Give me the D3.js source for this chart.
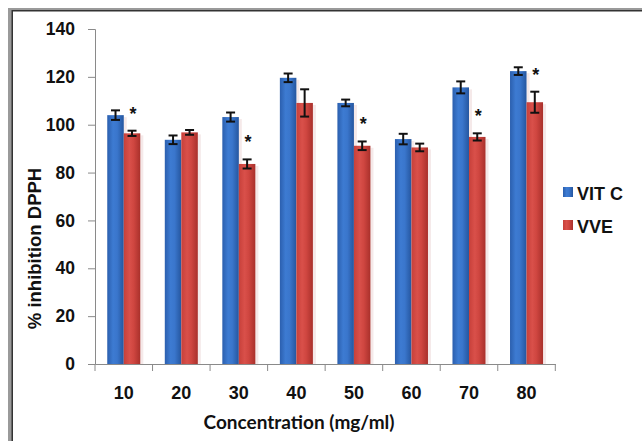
<!DOCTYPE html>
<html><head><meta charset="utf-8">
<script src="https://cdn.jsdelivr.net/npm/d3@7/dist/d3.min.js"></script>
<style>html,body{margin:0;padding:0;background:#fff;}svg{display:block;}</style>
</head><body>
<script>
const categories = ["10","20","30","40","50","60","70","80"];
const seriesNames = ["VIT C","VVE"];
const vitC = [104, 93.7, 103.2, 119.6, 109.1, 94, 115.6, 122.4];
const vitCErr = [2, 1.8, 1.9, 1.8, 1.4, 2.2, 2.5, 1.6];
const vve = [96.4, 96.8, 83.6, 109.1, 91.2, 90.5, 94.9, 109.4];
const vveErr = [1.1, 1.0, 1.9, 5.7, 1.8, 1.6, 1.5, 4.4];
const significant = [true, false, true, false, true, false, true, true];
const yTicks = [0,20,40,60,80,100,120,140];

const W = 642, H = 441;
const svg = d3.select("body").append("svg").attr("width", W).attr("height", H);
const defs = svg.append("defs");
function grad(id, stops){
  const g = defs.append("linearGradient").attr("id", id).attr("x1","0").attr("x2","1").attr("y1","0").attr("y2","0");
  stops.forEach(s => g.append("stop").attr("offset", s[0]).attr("stop-color", s[1]));
}
grad("gBlue", [[0,"#2b5fae"],[0.35,"#3d7bd2"],[0.6,"#3a76cc"],[1,"#25569f"]]);
grad("gRed", [[0,"#c7403a"],[0.35,"#d9504a"],[0.6,"#cf4640"],[1,"#a9302b"]]);

// frame
svg.append("rect").attr("x",0).attr("y",0).attr("width",W).attr("height",H).attr("fill","#fff");
svg.append("rect").attr("x",8).attr("y",8).attr("width",W-8).attr("height",3).attr("fill","#9a9a9a");
svg.append("rect").attr("x",8).attr("y",10).attr("width",W-8).attr("height",1.5).attr("fill","#333");
svg.append("rect").attr("x",8).attr("y",8).attr("width",4).attr("height",H-8).attr("fill","#9a9a9a");
svg.append("rect").attr("x",11.5).attr("y",10).attr("width",1.5).attr("height",H-10).attr("fill","#333");

const x0 = 95, x1 = 555.3, yTop = 29, yBot = 364;
const x = d3.scaleBand().domain(categories).range([x0, x1]).paddingInner(0.426).paddingOuter(0.213);
const xs = d3.scaleBand().domain(seriesNames).range([0, x.bandwidth()]);
const y = d3.scaleLinear().domain([0, 140]).range([yBot, yTop]);
const xTickScale = d3.scaleBand().domain(categories).range([x0, x1]);

// y axis
const yAxis = svg.append("g").attr("transform", `translate(${x0},0)`)
  .call(d3.axisLeft(y).tickValues(yTicks).tickSize(7).tickPadding(13).tickFormat(d3.format("d")));
yAxis.select(".domain").attr("stroke","#8a8a8a");
yAxis.selectAll(".tick line").attr("stroke","#8a8a8a");
yAxis.selectAll("text").attr("font-family","Liberation Sans, Arial, sans-serif").attr("font-weight","bold")
  .attr("font-size",17.5).attr("fill","#111");

// x axis
const xAxisG = svg.append("g").attr("transform", `translate(0,${yBot})`)
  .call(d3.axisBottom(x).tickSize(0).tickPadding(22));
xAxisG.select(".domain").attr("stroke","#8a8a8a");
xAxisG.selectAll("text").attr("font-family","Liberation Sans, Arial, sans-serif").attr("font-weight","bold")
  .attr("font-size",18).attr("fill","#111");
// boundary ticks
const bounds = categories.map(c => xTickScale(c)).concat([x1]);
svg.append("g").selectAll("line").data(bounds).join("line")
  .attr("x1", d=>d).attr("x2", d=>d).attr("y1", yBot).attr("y2", yBot+7)
  .attr("stroke","#8a8a8a");

// bars
const data = categories.map((c,i)=>({c, vals:[
  {s:"VIT C", v:vitC[i], e:vitCErr[i], fill:"url(#gBlue)"},
  {s:"VVE", v:vve[i], e:vveErr[i], fill:"url(#gRed)"}], sig:significant[i], i}));
const groups = svg.append("g").selectAll("g").data(data).join("g")
  .attr("transform", d=>`translate(${x(d.c)},0)`);
// shadows
groups.selectAll("rect.sh").data(d=>d.vals).join("rect").attr("class","sh")
  .attr("x", d=>xs(d.s)+xs.bandwidth()).attr("y", d=>y(d.v)+2).attr("width",3)
  .attr("height", d=>yBot-y(d.v)-2).attr("fill","#f3e3e3").attr("opacity",0.8);
groups.selectAll("rect.bar").data(d=>d.vals).join("rect").attr("class","bar")
  .attr("x", d=>xs(d.s)).attr("y", d=>y(d.v)).attr("width", xs.bandwidth())
  .attr("height", d=>yBot-y(d.v)).attr("fill", d=>d.fill);
// error bars
const eb = groups.selectAll("g.eb").data(d=>d.vals).join("g").attr("class","eb")
  .attr("transform", d=>`translate(${xs(d.s)+xs.bandwidth()/2},0)`);
eb.append("line").attr("x1",0).attr("x2",0).attr("y1",d=>y(d.v+d.e)).attr("y2",d=>y(d.v-d.e))
  .attr("stroke","#111").attr("stroke-width",2);
eb.append("line").attr("x1",-4.5).attr("x2",4.5).attr("y1",d=>y(d.v+d.e)).attr("y2",d=>y(d.v+d.e))
  .attr("stroke","#111").attr("stroke-width",2);
eb.append("line").attr("x1",-4.5).attr("x2",4.5).attr("y1",d=>y(d.v-d.e)).attr("y2",d=>y(d.v-d.e))
  .attr("stroke","#111").attr("stroke-width",2);
// asterisks
groups.filter(d=>d.sig).append("text")
  .attr("x", xs("VVE")+xs.bandwidth()/2+1)
  .attr("y", d=>y(d.vals[1].v+d.vals[1].e)-11)
  .attr("text-anchor","middle").attr("font-family","Liberation Sans, Arial, sans-serif")
  .attr("font-weight","bold").attr("font-size",18).attr("fill","#111").text("*");

// axis titles
svg.append("text").attr("x",299).attr("y",429).attr("text-anchor","middle")
  .attr("font-family","Lato, 'Open Sans', sans-serif").attr("font-weight","bold").attr("font-size",19)
  .attr("fill","#111").text("Concentration (mg/ml)");
svg.append("text").attr("transform","translate(41,248.5) rotate(-90)").attr("text-anchor","middle")
  .attr("font-family","Liberation Sans, Arial, sans-serif").attr("font-weight","bold").attr("font-size",18.5)
  .attr("fill","#111").text("% inhibition DPPH");

// legend
const leg = svg.append("g").selectAll("g").data(seriesNames).join("g")
  .attr("transform",(d,i)=>`translate(563,${187+i*33})`);
leg.append("rect").attr("width",10).attr("height",10)
  .attr("fill",(d,i)=> i===0 ? "url(#gBlue)" : "url(#gRed)");
leg.append("text").attr("x",14).attr("y",12.5)
  .attr("font-family","Liberation Sans, Arial, sans-serif").attr("font-weight","bold").attr("font-size",18)
  .attr("fill","#111").text(d=>d);
</script>
</body></html>
